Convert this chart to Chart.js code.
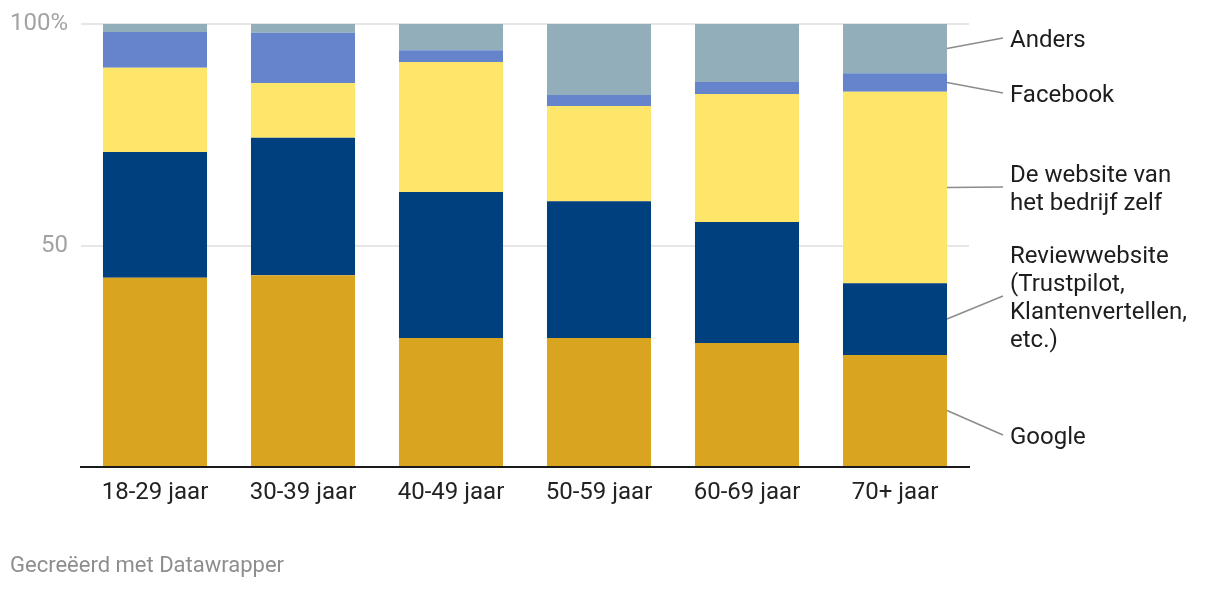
<!DOCTYPE html>
<html>
<head>
<meta charset="utf-8">
<script src="https://cdn.jsdelivr.net/npm/chart.js@4"></script>
<style>
    html, body { margin: 0; padding: 0; background: #fff; }
    #wrap { width: 1220px; height: 590px; position: relative; }
</style>
</head>
<body>
<div id="wrap"><canvas id="chart" width="1220" height="590"></canvas></div>
<script>
const categories = ["18-29 jaar", "30-39 jaar", "40-49 jaar", "50-59 jaar", "60-69 jaar", "70+ jaar"];

// stacked from bottom to top
const google = [42.7, 43.3, 29.1, 29.1, 28.0, 25.3];
const review = [28.4, 31.0, 33.0, 30.9, 27.3, 16.2];
const website = [19.0, 12.4, 29.3, 21.5, 28.9, 43.2];
const facebook = [8.1, 11.3, 2.7, 2.5, 2.7, 4.2];
const anders = [1.8, 2.0, 5.9, 16.0, 13.1, 11.1];

const seriesNames = ["Google", "Reviewwebsite (Trustpilot, Klantenvertellen, etc.)", "De website van het bedrijf zelf", "Facebook", "Anders"];
const yTicks = [0, 50, 100];

// labels on the right, one line per entry
const rightLabels = [
    ["Google"],
    ["Reviewwebsite", "(Trustpilot,", "Klantenvertellen,", "etc.)"],
    ["De website van", "het bedrijf zelf"],
    ["Facebook"],
    ["Anders"]
];
const labelY = [435, 296, 187, 93, 38];

const colors = ["#d9a521", "#01407f", "#fee66a", "#6684cc", "#93aebb"];

const FONT = "Roboto, 'Noto Sans', sans-serif";

const sideLabels = {
    id: "sideLabels",
    afterDatasetsDraw(chart) {
        const ctx = chart.ctx;
        ctx.save();
        chart.data.datasets.forEach((ds, i) => {
            const meta = chart.getDatasetMeta(i);
            const bar = meta.data[meta.data.length - 1];
            const x0 = bar.x + bar.width / 2;
            const yMid = (bar.y + bar.base) / 2;
            ctx.strokeStyle = "#8c8c8c";
            ctx.lineWidth = 1.5;
            ctx.beginPath();
            ctx.moveTo(x0, yMid);
            ctx.lineTo(1003, labelY[i]);
            ctx.stroke();

            const lines = rightLabels[i];
            const lh = 28;
            ctx.fillStyle = "#1d1d1d";
            ctx.font = "24px " + FONT;
            ctx.textBaseline = "middle";
            ctx.textAlign = "left";
            // +2.5 to centre the glyphs on the anchor
            const start = labelY[i] + 2.5 - (lines.length - 1) * lh / 2;
            lines.forEach((t, k) => ctx.fillText(t, 1010, start + k * lh));
        });

        // footer
        ctx.fillStyle = "#8e8e8e";
        ctx.font = "22px " + FONT;
        ctx.textBaseline = "middle";
        ctx.fillText("Gecreëerd met Datawrapper", 10, 566);
        ctx.restore();
    }
};

const data = [google, review, website, facebook, anders];

new Chart(document.getElementById("chart"), {
    type: "bar",
    data: {
        labels: categories,
        datasets: data.map((vals, i) => ({
            label: seriesNames[i],
            data: vals,
            backgroundColor: colors[i],
            borderWidth: 0,
            categoryPercentage: 1,
            barPercentage: 0.703
        }))
    },
    options: {
        responsive: false,
        animation: false,
        layout: { padding: { left: 0, right: 251, top: 24, bottom: 0 } },
        plugins: {
            legend: { display: false },
            tooltip: { enabled: false }
        },
        scales: {
            x: {
                stacked: true,
                grid: { display: false, drawTicks: false },
                border: { color: "#1a1a1a", width: 2 },
                ticks: { color: "#222", font: { family: FONT, size: 24 }, padding: 12, maxRotation: 0 },
                afterFit: s => { s.height = 123; s.paddingLeft = 0; s.paddingRight = 0; }
            },
            y: {
                stacked: true,
                min: 0,
                max: 100,
                afterBuildTicks: s => { s.ticks = yTicks.map(v => ({ value: v })); },
                grid: {
                    drawTicks: false,
                    lineWidth: 2,
                    color: c => c.tick.value === 0 ? "rgba(0,0,0,0)" : "#e6e6e6"
                },
                border: { display: false },
                ticks: {
                    color: "#a3a3a3",
                    font: { family: FONT, size: 24 },
                    padding: 13,
                    callback: v => v === 100 ? "100%" : v === 50 ? "50" : ""
                },
                afterFit: s => { s.width = 81; s.paddingTop = 0; s.paddingBottom = 0; }
            }
        }
    },
    plugins: [sideLabels]
});
</script>
</body>
</html>
